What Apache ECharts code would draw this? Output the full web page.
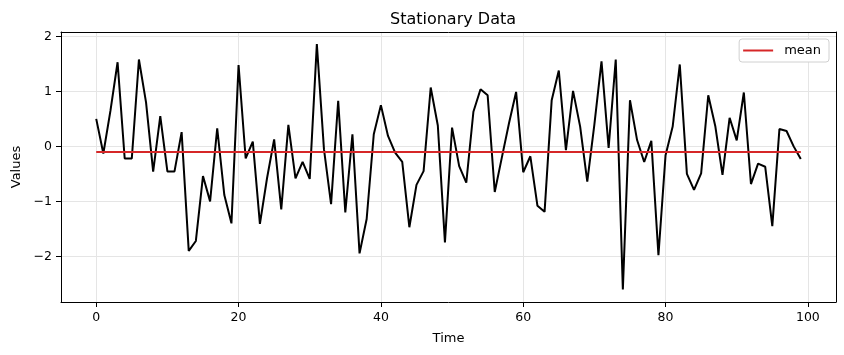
<!DOCTYPE html>
<html>
<head>
<meta charset="utf-8">
<script src="https://cdn.jsdelivr.net/npm/echarts@6/dist/echarts.min.js"></script>
<style>html,body{margin:0;padding:0;background:#fff}#c{width:844px;height:355px}</style>
</head>
<body>
<div id="c"></div>
<script>
const times = Array.from({length: 100}, (_, i) => i);
const values = [0.50, -0.13, 0.65, 1.53, -0.22, -0.22, 1.58, 0.80, -0.46, 0.55,
-0.455, -0.455, 0.26, -1.90, -1.72, -0.54, -1.00, 0.33, -0.885, -1.40,
1.48, -0.22, 0.085, -1.41, -0.58, 0.127, -1.145, 0.39, -0.58, -0.28,
-0.59, 1.86, -0.05, -1.05, 0.83, -1.20, 0.22, -1.945, -1.32, 0.22,
0.75, 0.19, -0.115, -0.28, -1.47, -0.70, -0.45, 1.07, 0.38, -1.745,
0.34, -0.36, -0.66, 0.63, 1.04, 0.93, -0.83, -0.20, 0.42, 0.99,
-0.47, -0.18, -1.08, -1.19, 0.84, 1.38, -0.07, 1.01, 0.36, -0.64,
0.40, 1.545, -0.03, 1.58, -2.60, 0.84, 0.115, -0.285, 0.10, -1.98,
-0.16, 0.36, 1.49, -0.50, -0.79, -0.49, 0.93, 0.36, -0.52, 0.52,
0.11, 0.98, -0.685, -0.315, -0.37, -1.45, 0.315, 0.28, 0.0, -0.23];
const meanValue = -0.103;
const xTicks = [0, 20, 40, 60, 80, 100];
const yTicks = [-2, -1, 0, 1, 2];

const font = 'DejaVu Sans';
const chart = echarts.init(document.getElementById('c'), null, {renderer: 'canvas'});
const fmt = v => (v < 0 ? '\u2212' + Math.abs(v) : String(v));
const xRange = {min: -4.95, max: 103.95};
const yRange = {min: -2.83, max: 2.08};
const frameAxis = {
  axisLine: {show: true, onZero: false, lineStyle: {color: '#000', width: 1}},
  axisTick: {show: false}, axisLabel: {show: false}, splitLine: {show: false}
};
chart.setOption({
  animation: false,
  backgroundColor: '#fff',
  title: {
    text: 'Stationary Data', left: 448, top: 7, textAlign: 'center',
    textStyle: {fontFamily: font, fontSize: 16, fontWeight: 'normal', color: '#000'}
  },
  legend: {
    right: 15, top: 39, padding: [5, 8, 5, 4],
    backgroundColor: '#fff', borderColor: '#d0d0d0', borderWidth: 1, borderRadius: 3,
    itemWidth: 30, itemHeight: 2, itemGap: 10,
    textStyle: {fontFamily: font, fontSize: 13, color: '#000', padding: [0, 0, 0, 6]},
    data: [{name: 'mean', icon: 'rect'}]
  },
  grid: {left: 61, right: 8, top: 32, bottom: 53},
  xAxis: [{
    type: 'value', ...xRange,
    name: 'Time', nameLocation: 'middle', nameGap: 30,
    nameTextStyle: {fontFamily: font, fontSize: 13, color: '#000'},
    axisLine: {show: true, onZero: false, lineStyle: {color: '#000', width: 1}},
    axisTick: {show: true, inside: false, length: 5, lineStyle: {color: '#000'}, customValues: xTicks},
    axisLabel: {fontFamily: font, fontSize: 12.5, color: '#000', margin: 9, customValues: xTicks, formatter: fmt},
    splitLine: {show: true, lineStyle: {color: '#e5e5e5', width: 1}}
  }, {
    type: 'value', position: 'top', ...xRange, ...frameAxis
  }],
  yAxis: [{
    type: 'value', ...yRange,
    name: 'Values', nameLocation: 'middle', nameGap: 38,
    nameTextStyle: {fontFamily: font, fontSize: 13, color: '#000'},
    axisLine: {show: true, onZero: false, lineStyle: {color: '#000', width: 1}},
    axisTick: {show: true, inside: false, length: 5, lineStyle: {color: '#000'}, customValues: yTicks},
    axisLabel: {fontFamily: font, fontSize: 12.5, color: '#000', margin: 9, customValues: yTicks, formatter: fmt},
    splitLine: {show: true, lineStyle: {color: '#e5e5e5', width: 1}}
  }, {
    type: 'value', position: 'right', ...yRange, ...frameAxis
  }],
  series: [
    {
      name: 'data', type: 'line', symbol: 'none', z: 2,
      lineStyle: {color: '#000', width: 2},
      data: times.map((t, i) => [t, values[i]])
    },
    {
      name: 'mean', type: 'line', symbol: 'none', z: 3,
      color: '#d62728',
      lineStyle: {color: '#d62728', width: 2},
      data: times.map(t => [t, meanValue])
    }
  ]
});
</script>
</body>
</html>
